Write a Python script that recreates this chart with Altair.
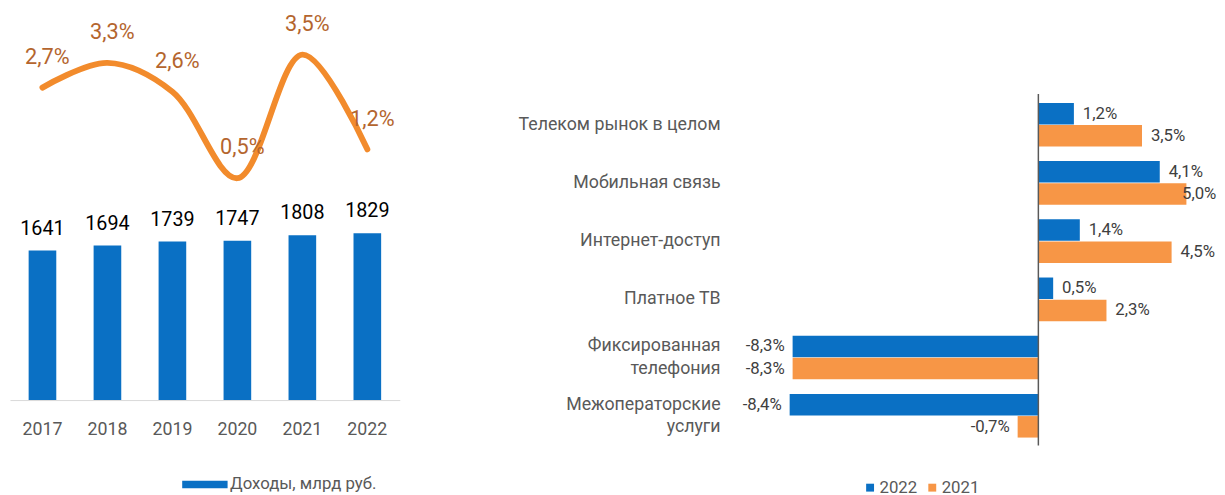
import altair as alt
import pandas as pd

# ---------------- data ----------------
years = ["2017", "2018", "2019", "2020", "2021", "2022"]
revenue = [1641, 1694, 1739, 1747, 1808, 1829]
growth = [2.7, 3.3, 2.6, 0.5, 3.5, 1.2]
revenue_series = "Доходы, млрд руб."

segments = [
    "Телеком рынок в целом",
    "Мобильная связь",
    "Интернет-доступ",
    "Платное ТВ",
    "Фиксированная\nтелефония",
    "Межоператорские\nуслуги",
]
growth_2022 = [1.2, 4.1, 1.4, 0.5, -8.3, -8.4]
growth_2021 = [3.5, 5.0, 4.5, 2.3, -8.3, -0.7]
series_years = ["2022", "2021"]


def ru_pct(v):
    return f"{v:.1f}".replace(".", ",") + "%"


left_df = pd.DataFrame({"year": years, "revenue": revenue, "growth": growth})
left_df["series"] = revenue_series
left_df["growth_label"] = [ru_pct(v) for v in growth]

rows = []
for s, a, b in zip(segments, growth_2022, growth_2021):
    rows.append({"segment": s, "yr": "2022", "value": a, "label": ru_pct(a)})
    rows.append({"segment": s, "yr": "2021", "value": b, "label": ru_pct(b)})
right_df = pd.DataFrame(rows)

single_rows, multi_rows = [], []
for s in segments:
    parts = s.split("\n")
    if len(parts) == 1:
        single_rows.append({"segment": s, "line": parts[0]})
    else:
        for p, yr in zip(parts, series_years):
            multi_rows.append({"segment": s, "line": p, "yr": yr})
single_df = pd.DataFrame(single_rows)
multi_df = pd.DataFrame(multi_rows)

BLUE = "#0A70C4"
ORANGE = "#F79646"
LINE = "#F28B2C"
LINE_LABEL = "#B4652E"
GRAY = "#595959"

# ---------------- left panel ----------------
base_l = alt.Chart(left_df).encode(
    x=alt.X(
        "year:N",
        sort=years,
        scale=alt.Scale(paddingInner=0, paddingOuter=0),
        axis=alt.Axis(
            title=None,
            labelAngle=0,
            labelFontSize=18,
            labelColor=GRAY,
            ticks=False,
            domainColor="#D9D9D9",
            domainWidth=1,
            labelPadding=21,
        ),
    )
)
y_rev = alt.Y("revenue:Q", scale=alt.Scale(domain=[0, 4242], nice=False), axis=None)
bars = base_l.mark_bar(size=28).encode(
    y=y_rev,
    color=alt.Color(
        "series:N",
        scale=alt.Scale(range=[BLUE]),
        legend=alt.Legend(
            title=None,
            orient="none",
            legendX=189,
            legendY=469,
            symbolType="M-3,-0.5H3V0.5H-3Z",
            symbolSize=235,
            symbolStrokeWidth=0,
            symbolOpacity=1,
            labelFontSize=17,
            labelColor=GRAY,
            labelOffset=17,
        ),
    ),
)
bar_text = base_l.mark_text(dy=-16, baseline="alphabetic", fontSize=20, color="#000000").encode(
    y=y_rev, text=alt.Text("revenue:Q", format="d")
)
y_g = alt.Y("growth:Q", scale=alt.Scale(domain=[-4.892, 4.508], nice=False, zero=False), axis=None)
line = base_l.mark_line(interpolate="catmull-rom", strokeWidth=6, color=LINE, strokeCap="round").encode(y=y_g)
line_text = base_l.mark_text(dy=-24, dx=5, baseline="alphabetic", fontSize=22, color=LINE_LABEL).encode(
    y=y_g, text="growth_label:N"
)
left = (
    alt.layer(bars, bar_text, line, line_text)
    .resolve_scale(y="independent")
    .properties(width=395, height=392)
)

# ---------------- right panel ----------------
y_seg = alt.Y(
    "segment:N",
    sort=segments,
    scale=alt.Scale(paddingInner=0.25, paddingOuter=0.771, align=1),
    axis=None,
)
x_scale = alt.Scale(domain=[-10.5, 5.5], nice=False, zero=False)
x_val = alt.X("value:Q", scale=x_scale, axis=None)
yoff = alt.YOffset("yr:N", sort=series_years, scale=alt.Scale(paddingInner=0.03))

base_r = alt.Chart(right_df)
hbars = base_r.mark_bar().encode(
    y=y_seg,
    x=x_val,
    x2=alt.datum(0),
    yOffset=yoff,
    color=alt.Color(
        "yr:N",
        sort=series_years,
        scale=alt.Scale(domain=series_years, range=[BLUE, ORANGE]),
        legend=alt.Legend(
            title=None,
            orient="none",
            direction="horizontal",
            legendX=136,
            legendY=472,
            symbolType="square",
            symbolSize=64,
            symbolStrokeWidth=0,
            symbolOpacity=1,
            labelFontSize=17,
            labelColor=GRAY,
            labelOffset=1,
            columnPadding=6,
        ),
    ),
)
pos_text = (
    base_r.transform_filter("datum.value >= 0")
    .transform_calculate(lx="min(datum.value, 4.55)")
    .mark_text(align="left", dx=9, baseline="middle", fontSize=17, color="#404040")
    .encode(x=alt.X("lx:Q", scale=x_scale, axis=None), y=y_seg, yOffset=yoff, text="label:N")
)
neg_text = (
    base_r.transform_filter("datum.value < 0")
    .mark_text(align="right", dx=-8, baseline="middle", fontSize=17, color="#404040")
    .encode(x=x_val, y=y_seg, yOffset=yoff, text="label:N")
)
cat_single = (
    alt.Chart(single_df)
    .mark_text(align="right", baseline="middle", fontSize=18, color=GRAY)
    .encode(x=alt.value(-7), y=y_seg, text="line:N")
)
cat_multi = (
    alt.Chart(multi_df)
    .mark_text(align="right", baseline="middle", fontSize=18, color=GRAY)
    .encode(x=alt.value(-7), y=y_seg, yOffset=yoff, text="line:N")
)
zero_rule = (
    alt.Chart(pd.DataFrame({"zero": [0]}))
    .mark_rule(color=GRAY, strokeWidth=1.5)
    .encode(x=alt.X("zero:Q", scale=x_scale, axis=None), y=alt.value(82), y2=alt.value(438))
)
right = alt.layer(hbars, pos_text, neg_text, cat_single, cat_multi, zero_rule).properties(
    width=480, height=430
)

chart = (
    alt.hconcat(left, right, spacing=120)
    .resolve_scale(color="independent")
    .properties(padding={"left": 2, "top": 2, "right": 0, "bottom": 0})
    .configure(font="Roboto")
    .configure_view(stroke=None)
)

chart.save("out.html", embed_options={"renderer": "svg", "actions": False})
